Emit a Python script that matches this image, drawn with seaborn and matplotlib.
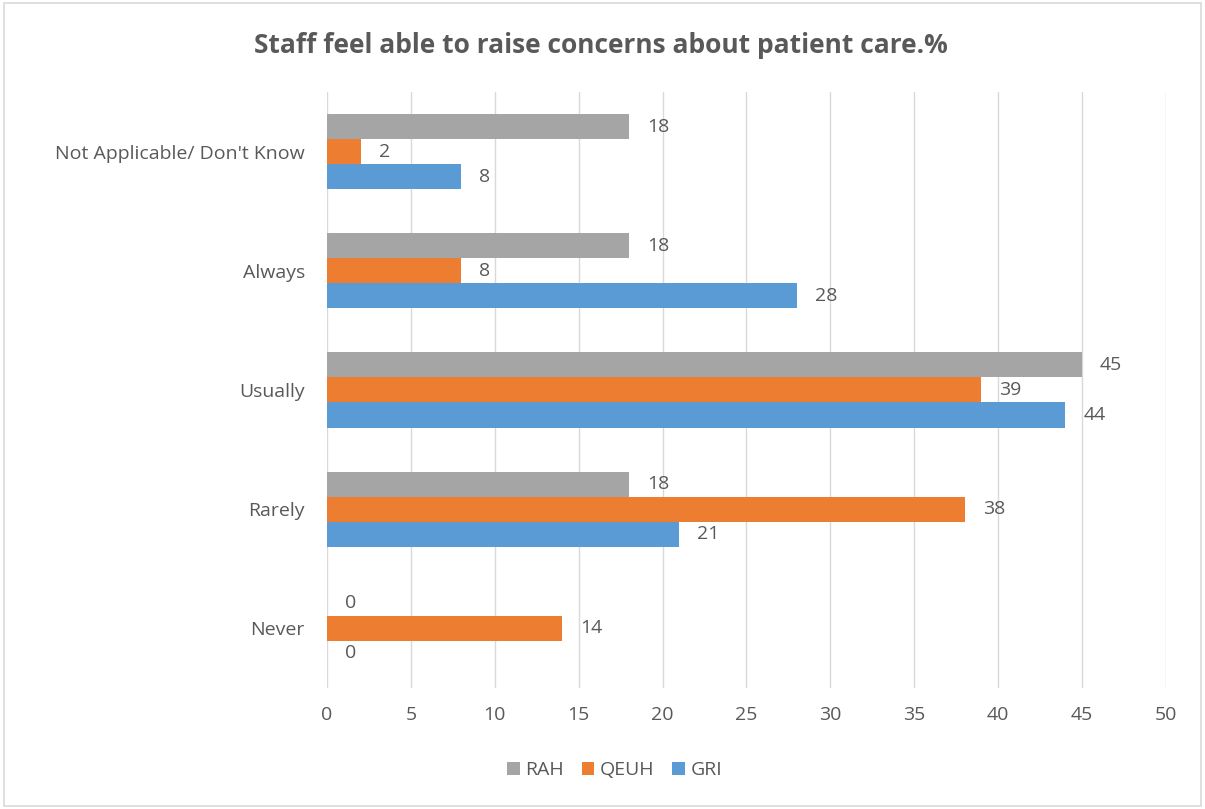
import matplotlib
matplotlib.use("Agg")
import matplotlib.pyplot as plt
import seaborn as sns
import pandas as pd
from matplotlib.patches import Rectangle

categories = ["Not Applicable/ Don't Know", "Always", "Usually", "Rarely", "Never"]
series = ["RAH", "QEUH", "GRI"]
rah = [18, 18, 45, 18, 0]
qeuh = [2, 8, 39, 38, 14]
gri = [8, 28, 44, 21, 0]
x_ticks = [0, 5, 10, 15, 20, 25, 30, 35, 40, 45, 50]

colors = {"RAH": "#A5A5A5", "QEUH": "#ED7D31", "GRI": "#5B9BD5"}
text_color = "#595959"

rows = []
for name, vals in zip(series, [rah, qeuh, gri]):
    for cat, v in zip(categories, vals):
        rows.append({"Response": cat, "Site": name, "Percent": v})
df = pd.DataFrame(rows)

sns.set_theme(style="white")
plt.rcParams["font.family"] = ["Open Sans", "DejaVu Sans"]

fig = plt.figure(figsize=(12.05, 8.09), dpi=100)
ax = fig.add_axes([0.2714, 0.1496, 0.6962, 0.7367])

sns.barplot(data=df, y="Response", x="Percent", hue="Site", order=categories,
            hue_order=series, palette=colors, orient="h", width=0.63,
            saturation=1, linewidth=0, ax=ax, legend=True)

ax.set_xlim(0, 50)
ax.set_ylim(4.5, -0.5)
ax.set_xticks(x_ticks)
ax.xaxis.grid(True, color="#D9D9D9", linewidth=1)
ax.set_axisbelow(True)
for s in ax.spines.values():
    s.set_visible(False)
ax.tick_params(axis="both", length=0, labelsize=14, labelcolor=text_color)
ax.tick_params(axis="x", pad=13)
ax.tick_params(axis="y", pad=16)
ax.set_xlabel("")
ax.set_ylabel("")

for cont in ax.containers:
    ax.bar_label(cont, fmt="%g", padding=13, fontsize=14, color=text_color)

handles, labels = ax.get_legend_handles_labels()
ax.legend_.remove()
fig.legend(handles, labels, loc="center", bbox_to_anchor=(0.51, 0.048), ncol=3,
           frameon=False, fontsize=14, handlelength=0.65, handleheight=0.65,
           columnspacing=0.9, handletextpad=0.3, labelcolor=text_color)

fig.text(0.499, 0.944, "Staff feel able to raise concerns about patient care.%",
         ha="center", va="center", fontsize=19, fontweight="bold", color=text_color)

fig.patches.append(Rectangle((0.003, 0.004), 0.994, 0.992, transform=fig.transFigure,
                             fill=False, edgecolor="#D9D9D9", linewidth=1.2))

fig.savefig("out.png", dpi=100, facecolor="white")
